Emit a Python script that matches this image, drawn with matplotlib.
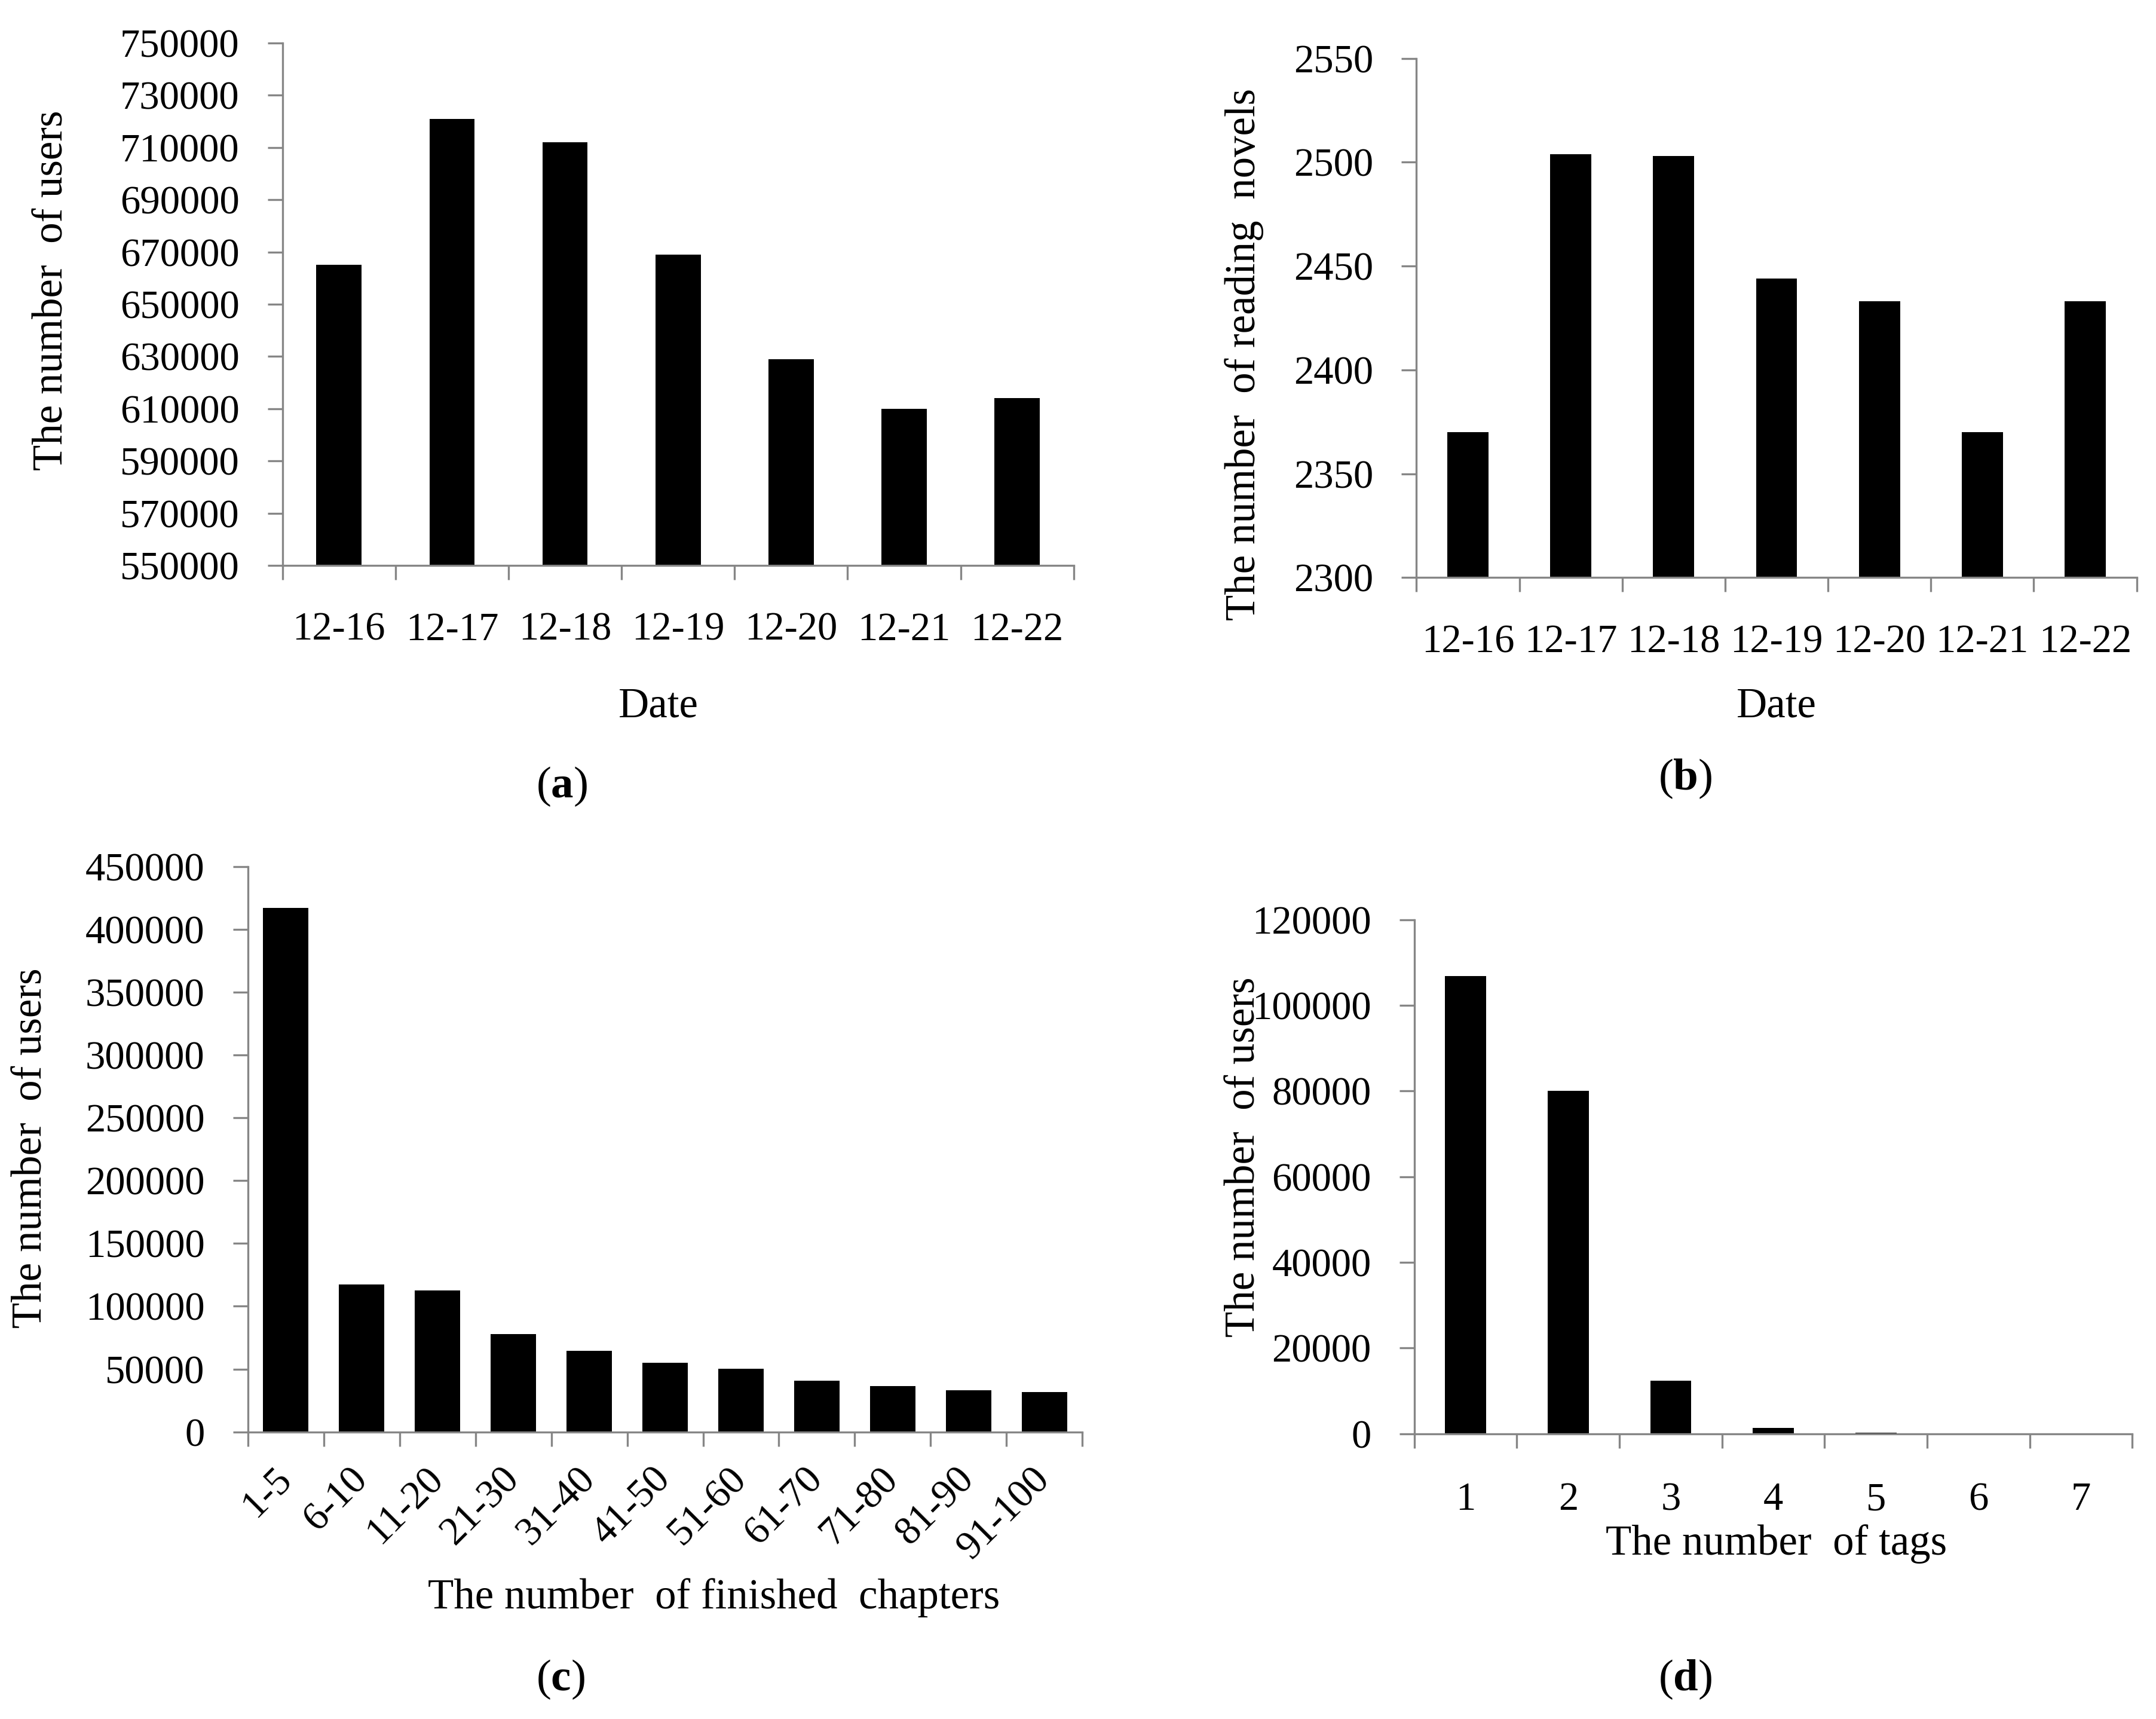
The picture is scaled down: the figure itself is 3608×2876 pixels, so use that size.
import matplotlib
matplotlib.use("Agg")
import matplotlib.pyplot as plt
import numpy as np

plt.rcParams['font.family'] = ['Liberation Serif', 'DejaVu Serif']
plt.rcParams['mathtext.fontset'] = 'custom'
plt.rcParams['mathtext.rm'] = 'Liberation Serif'
plt.rcParams['mathtext.bf'] = 'Liberation Serif:bold'

# data
dates = ['12-16', '12-17', '12-18', '12-19', '12-20', '12-21', '12-22']
users_per_day = [665000, 721000, 712000, 669000, 629000, 610000, 614000]
novels_per_day = [2370, 2504, 2503, 2444, 2433, 2370, 2433]

chapter_bins = ['1-5', '6-10', '11-20', '21-30', '31-40', '41-50',
                '51-60', '61-70', '71-80', '81-90', '91-100']
users_per_chapters = [417000, 117300, 112400, 77800, 64700, 54800,
                      50300, 40900, 36400, 33300, 31900]

tag_counts = ['1', '2', '3', '4', '5', '6', '7']
users_per_tags = [106900, 80000, 12300, 1300, 200, 120, 60]

FS = 24
LFS = 25.5   # axis titles are set a bit looser in the original
AXCOL = '#868686'


def style_axis(ax, cats, yticks, bar_vals, width, label_pad, rot=False):
    n = len(cats)
    x = np.arange(n)
    ax.bar(x, bar_vals, width=width, color='black', zorder=2)
    ax.set_xlim(-0.5, n - 0.5)
    ax.set_ylim(yticks[0], yticks[-1])
    ax.set_yticks(yticks)
    ax.set_yticklabels([str(v) for v in yticks], fontsize=FS)
    # boundary ticks like excel, labels on minor ticks at centres
    ax.set_xticks(np.arange(n + 1) - 0.5)
    ax.set_xticklabels([])
    ax.set_xticks(x, minor=True)
    if rot:
        ax.set_xticklabels(cats, minor=True, fontsize=FS, rotation=45,
                           ha='right', va='center', rotation_mode='anchor')
    else:
        ax.set_xticklabels(cats, minor=True, fontsize=FS)
    ax.tick_params(axis='x', which='major', length=8.5, width=1.2, color=AXCOL, direction='out')
    ax.tick_params(axis='x', which='minor', length=0, pad=label_pad)
    ax.tick_params(axis='y', length=9, width=1.2, color=AXCOL, pad=17, direction='out')
    for s in ['top', 'right']:
        ax.spines[s].set_visible(False)
    for s in ['left', 'bottom']:
        ax.spines[s].set_color(AXCOL)
        ax.spines[s].set_linewidth(1.2)


fig = plt.figure(figsize=(18.04, 14.38), dpi=200)

ax_a = fig.add_axes([0.131, 0.671, 0.367, 0.304])
style_axis(ax_a, dates, list(range(550000, 750001, 20000)), users_per_day, 0.4, 28)

ax_b = fig.add_axes([0.657, 0.664, 0.334, 0.302])
style_axis(ax_b, dates, list(range(2300, 2551, 50)), novels_per_day, 0.4, 28)

ax_c = fig.add_axes([0.115, 0.167, 0.387, 0.329])
style_axis(ax_c, chapter_bins, list(range(0, 450001, 50000)), users_per_chapters, 0.6, 25, rot=True)

ax_d = fig.add_axes([0.656, 0.166, 0.333, 0.299])
style_axis(ax_d, tag_counts, list(range(0, 120001, 20000)), users_per_tags, 0.4, 29)

# axis titles
fig.text(0.024, 0.831, 'The number  of users', rotation=90, ha='center', va='center', fontsize=LFS)
fig.text(0.577, 0.794, 'The number  of reading  novels', rotation=90, ha='center', va='center', fontsize=LFS)
fig.text(0.0144, 0.332, 'The number  of users', rotation=90, ha='center', va='center', fontsize=LFS)
fig.text(0.577, 0.327, 'The number  of users', rotation=90, ha='center', va='center', fontsize=LFS)

fig.text(0.3055, 0.589, 'Date', ha='center', va='center', fontsize=LFS)
fig.text(0.824, 0.589, 'Date', ha='center', va='center', fontsize=LFS)
fig.text(0.331, 0.0706, 'The number  of finished  chapters', ha='center', va='center', fontsize=LFS)
fig.text(0.824, 0.102, 'The number  of tags', ha='center', va='center', fontsize=LFS)

# panel letters
for lx, ly, letter in [(0.2607, 0.5425, 'a'), (0.7816, 0.547, 'b'),
                       (0.260, 0.023, 'c'), (0.7816, 0.023, 'd')]:
    fig.text(lx, ly, '(' + r'$\mathbf{' + letter + '}$' + ')', ha='center', va='center', fontsize=FS + 3)

fig.savefig('out.png', dpi=200, facecolor='white')
